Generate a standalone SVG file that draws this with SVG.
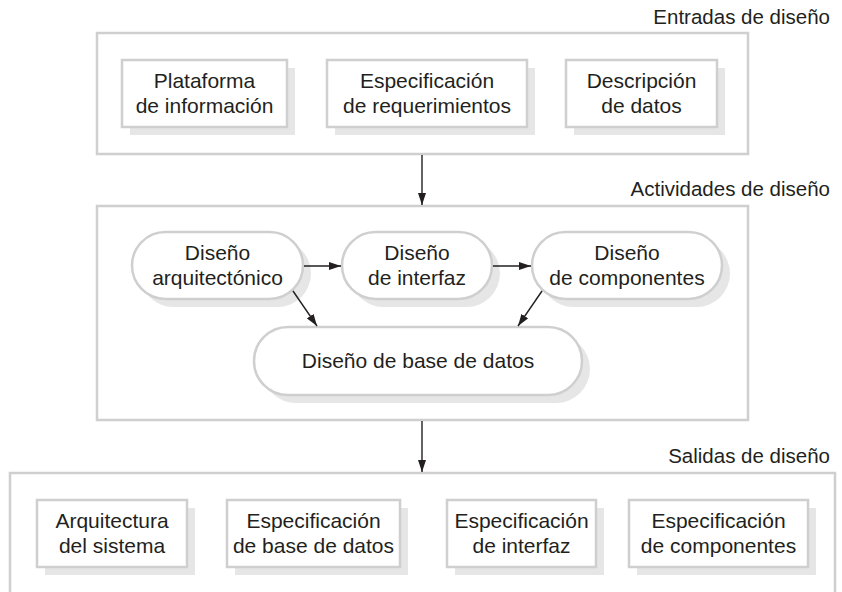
<svg xmlns="http://www.w3.org/2000/svg" width="842" height="592" viewBox="0 0 842 592">
<style>
text{font-family:"Liberation Sans",Arial,sans-serif;font-size:21px;fill:#231f20}
.c{text-anchor:middle}
.lbl{text-anchor:end;font-size:20.5px}
.frame{fill:#fff;stroke:#cfcfcf;stroke-width:2.5}
.sh{fill:#e6e6e6}
.nd{fill:#fff;stroke:#cfcfcf;stroke-width:2.5}
.ln{stroke:#231f20;stroke-width:1.4;fill:none;marker-end:url(#ah)}
</style>
<defs>
<marker id="ah" viewBox="0 0 12 8" refX="12" refY="4" markerWidth="12" markerHeight="8" markerUnits="userSpaceOnUse" orient="auto">
<path d="M0,0 L12,4 L0,8 z" fill="#231f20"/>
</marker>
</defs>
<rect width="842" height="592" fill="#fff"/>

<g id="entradas">
<text class="lbl" x="830" y="24">Entradas de diseño</text>
<rect class="frame" x="97" y="33" width="651" height="121"/>
</g>
<g id="plataforma">
<rect class="sh" x="130" y="68" width="165" height="67"/>
<rect class="nd" x="122" y="60" width="165" height="67"/>
<text class="c" x="204.5" y="88">Plataforma</text>
<text class="c" x="204.5" y="113">de información</text>
</g>
<g id="especificacion-req">
<rect class="sh" x="335" y="68" width="200" height="67"/>
<rect class="nd" x="327" y="60" width="200" height="67"/>
<text class="c" x="427" y="88">Especificación</text>
<text class="c" x="427" y="113">de requerimientos</text>
</g>
<g id="descripcion">
<rect class="sh" x="574" y="68" width="151" height="67"/>
<rect class="nd" x="566" y="60" width="151" height="67"/>
<text class="c" x="641.5" y="88">Descripción</text>
<text class="c" x="641.5" y="113">de datos</text>
</g>

<g id="actividades">
<text class="lbl" x="830" y="196">Actividades de diseño</text>
<rect class="frame" x="97" y="206" width="651" height="214"/>
</g>
<g id="diseno-arq">
<rect class="sh" x="140" y="240" width="171" height="67" rx="33.5"/>
<rect class="nd" x="132" y="232" width="171" height="67" rx="33.5"/>
<text class="c" x="217.5" y="260">Diseño</text>
<text class="c" x="217.5" y="285">arquitectónico</text>
</g>
<g id="diseno-interfaz">
<rect class="sh" x="350" y="240" width="150" height="67" rx="33.5"/>
<rect class="nd" x="342" y="232" width="150" height="67" rx="33.5"/>
<text class="c" x="417" y="260">Diseño</text>
<text class="c" x="417" y="285">de interfaz</text>
</g>
<g id="diseno-comp">
<rect class="sh" x="540" y="240" width="190" height="67" rx="33.5"/>
<rect class="nd" x="532" y="232" width="190" height="67" rx="33.5"/>
<text class="c" x="627" y="260">Diseño</text>
<text class="c" x="627" y="285">de componentes</text>
</g>
<g id="diseno-bd">
<rect class="sh" x="262" y="335" width="328" height="68" rx="34"/>
<rect class="nd" x="254" y="327" width="328" height="68" rx="34"/>
<text class="c" x="418" y="368">Diseño de base de datos</text>
</g>

<g id="salidas">
<text class="lbl" x="830" y="463">Salidas de diseño</text>
<path class="frame" d="M10,600 V473 H835 V600"/>
</g>
<g id="arquitectura">
<rect class="sh" x="45" y="508" width="150" height="67"/>
<rect class="nd" x="37" y="500" width="150" height="67"/>
<text class="c" x="112" y="528">Arquitectura</text>
<text class="c" x="112" y="553">del sistema</text>
</g>
<g id="espec-bd">
<rect class="sh" x="235" y="508" width="173" height="67"/>
<rect class="nd" x="227" y="500" width="173" height="67"/>
<text class="c" x="313.5" y="528">Especificación</text>
<text class="c" x="313.5" y="553">de base de datos</text>
</g>
<g id="espec-interfaz">
<rect class="sh" x="455" y="508" width="149" height="67"/>
<rect class="nd" x="447" y="500" width="149" height="67"/>
<text class="c" x="521.5" y="528">Especificación</text>
<text class="c" x="521.5" y="553">de interfaz</text>
</g>
<g id="espec-comp">
<rect class="sh" x="637" y="508" width="179" height="67"/>
<rect class="nd" x="629" y="500" width="179" height="67"/>
<text class="c" x="718.5" y="528">Especificación</text>
<text class="c" x="718.5" y="553">de componentes</text>
</g>

<g id="connectors">
<line class="ln" x1="422" y1="155" x2="422" y2="205"/>
<line class="ln" x1="422" y1="421" x2="422" y2="472"/>
<line class="ln" x1="304" y1="266" x2="341" y2="266"/>
<line class="ln" x1="493" y1="266" x2="531" y2="266"/>
<line class="ln" x1="293" y1="291" x2="317" y2="326"/>
<line class="ln" x1="542" y1="291" x2="518" y2="326"/>
</g>
</svg>
